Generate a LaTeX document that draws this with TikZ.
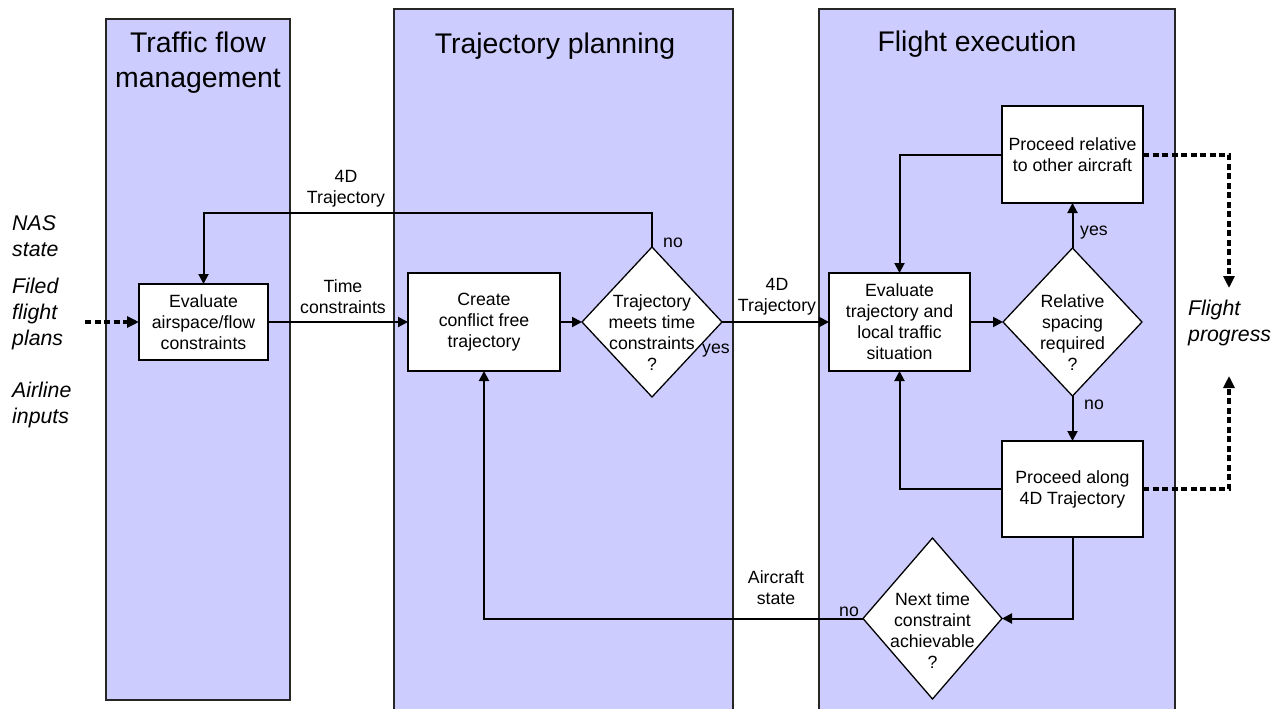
\documentclass[tikz,border=0pt]{standalone}
\usepackage{fontspec}
\setmainfont{Liberation Sans}
\usetikzlibrary{arrows.meta,shapes.geometric}
\definecolor{lanefill}{RGB}{204,204,255}
\newcommand{\mybody}{\fontsize{17.7}{21}\selectfont}
\newcommand{\myside}{\fontsize{21.3}{26}\selectfont\itshape}
\newcommand{\mytitle}{\fontsize{28.4}{35}\selectfont}
\begin{document}
\begin{tikzpicture}[x=1pt,y=-1pt,
  lanebox/.style={draw=black!85,line width=1.5pt,fill=lanefill},
  procbox/.style={draw=black,line width=1.3pt,fill=white,rectangle,inner sep=0pt,outer sep=0pt,align=center,font=\mybody},
  decbox/.style={draw=black,line width=1.3pt,fill=white,diamond,inner sep=0pt,outer sep=0pt},
  txt/.style={align=center,font=\mybody,inner sep=0pt},
  flow/.style={line width=2pt,-{Triangle[length=10pt,width=10pt]}},
  dots/.style={line width=4pt,dash pattern=on 6pt off 3.5pt,-{Triangle[length=12pt,width=11pt]}},
  side/.style={align=left,font=\myside,inner sep=0pt,anchor=west},
  lanetitle/.style={align=center,font=\mytitle,inner sep=0pt}]
\useasboundingbox (0,0) rectangle (1283,709);
% lanes
\path[lanebox] (106,19) rectangle (290,700);
\path[lanebox] (394,9) rectangle (733,716);
\path[lanebox] (819,9) rectangle (1175,716);
\node[lanetitle] (t1) at (198,63) {Traffic flow\\management};
\node[lanetitle] (t2) at (555,46) {Trajectory planning};
\node[lanetitle] (t3) at (977,44) {Flight execution};
% side texts
\node[side] (nas) at (12,236) {NAS\\state};
\node[side] (filed) at (12,314) {Filed\\flight\\plans};
\node[side] (airline) at (12,404.5) {Airline\\inputs};
\node[side] (fprog) at (1188,322.5) {Flight\\progress};
% process boxes
\node[procbox,minimum width=129pt,minimum height=76pt] (ev1) at (203.5,322) {Evaluate\\airspace/flow\\constraints};
\node[procbox,minimum width=152pt,minimum height=98pt] (create) at (484,322) {Create\\conflict free\\trajectory};
\node[procbox,minimum width=141pt,minimum height=98pt] (ev2) at (899.5,322) {Evaluate\\trajectory and\\local traffic\\situation};
\node[procbox,minimum width=141pt,minimum height=97pt] (prel) at (1072.5,154.5) {Proceed relative\\to other aircraft};
\node[procbox,minimum width=141pt,minimum height=96pt] (palong) at (1072.5,489) {Proceed along\\4D Trajectory};
% decisions
\node[decbox,minimum width=140pt,minimum height=150pt] (d1) at (652,322) {};
\node[txt] (d1t) at (652,333) {Trajectory\\meets time\\constraints\\?};
\node[decbox,minimum width=139pt,minimum height=148pt] (d2) at (1072.5,322) {};
\node[txt] (d2t) at (1072.5,333) {Relative\\spacing\\required\\?};
\node[decbox,minimum width=139pt,minimum height=161pt] (d3) at (932.5,618.5) {};
\node[txt] (d3t) at (932.5,630.5) {Next time\\constraint\\achievable\\?};
% free ends
\coordinate (inp) at (85,322);
\coordinate (fp1) at (1229,288);
\coordinate (fp2) at (1229,376);
% connectors
\draw[dots] (inp) -- (ev1.west);
\draw[flow] (ev1.east) -- (create.west);
\draw[flow] (create.east) -- (d1.west);
\draw[flow] (d1.north) |- (ev1.north |- 0,213) -- (ev1.north);
\draw[flow] (d1.east) -- (ev2.west);
\draw[flow] (ev2.east) -- (d2.west);
\draw[flow] (d2.north) -- (prel.south);
\draw[flow] (d2.south) -- (palong.north);
\draw[flow] (prel.west) -| (ev2.north);
\draw[flow] (palong.west) -| (ev2.south);
\draw[flow] (palong.south) |- (d3.east);
\draw[flow] (d3.west) -| (create.south);
\draw[dots] (prel.east) -| (fp1);
\draw[dots] (palong.east) -| (fp2);
% labels
\node[txt] (l4d1) at (346,189) {4D\\Trajectory};
\node[txt] (ltc) at (343,297) {Time\\constraints};
\node[txt] (lno1) at (673,243) {no};
\node[txt] (lyes1) at (716,351) {yes};
\node[txt] (l4d2) at (777,297) {4D\\Trajectory};
\node[txt] (lyes2) at (1094,233) {yes};
\node[txt] (lno2) at (1094,405) {no};
\node[txt] (lno3) at (849,612) {no};
\node[txt] (lac) at (776,588) {Aircraft\\state};
\end{tikzpicture}
\end{document}
